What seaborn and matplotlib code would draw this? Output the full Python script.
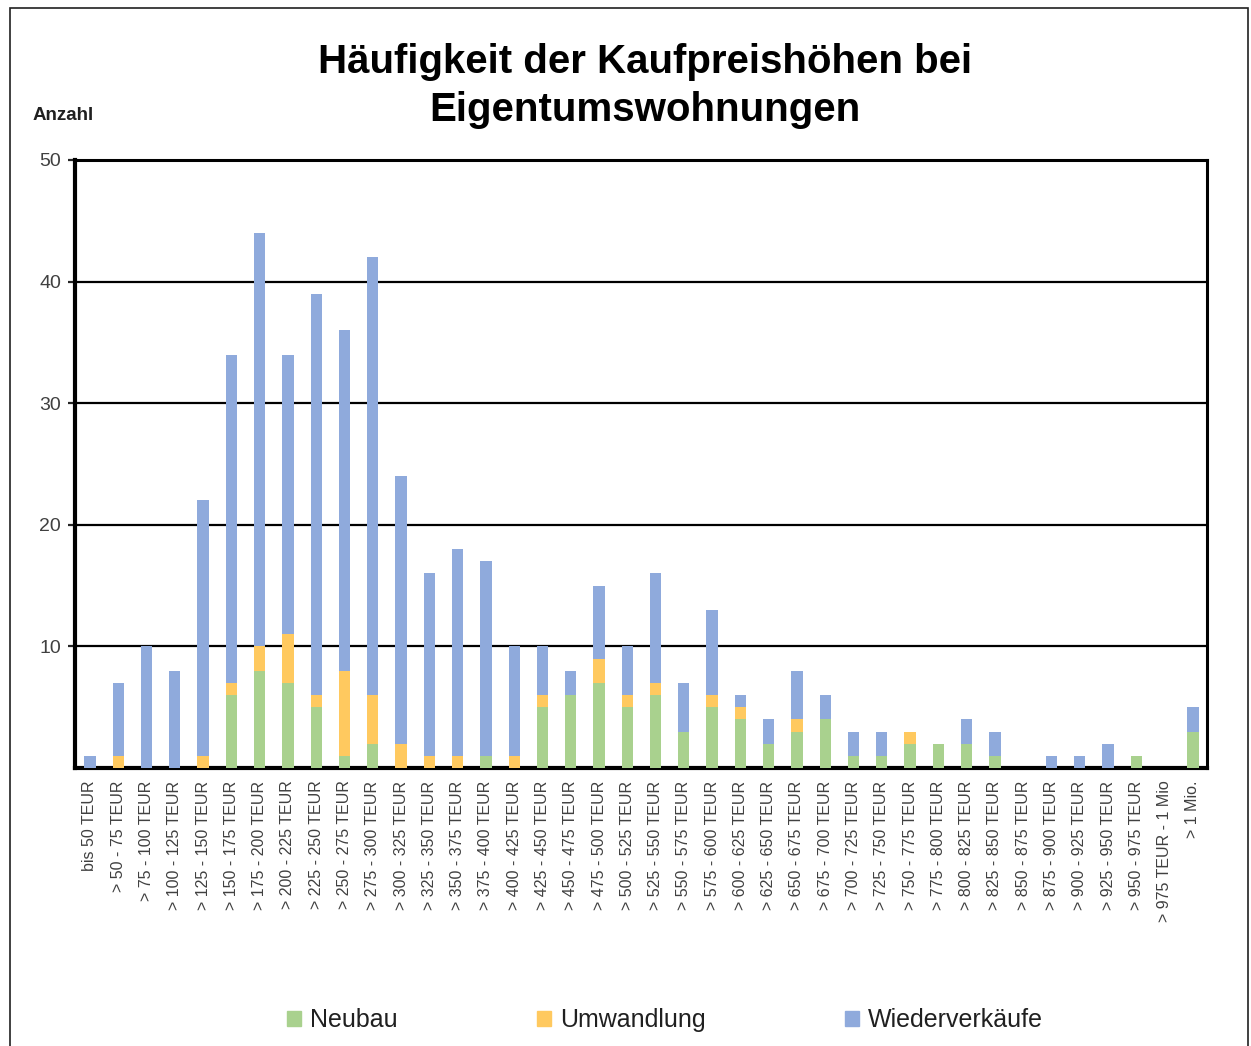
import matplotlib
matplotlib.use("Agg")
import matplotlib.pyplot as plt
import matplotlib.patches as mpatches
import numpy as np
import pandas as pd
import seaborn as sns

# Daten
klassen = ["bis 50 TEUR"] + [f"> {a} - {a + 25} TEUR" for a in range(50, 975, 25)] + \
          ["> 975 TEUR - 1 Mio", "> 1 Mio."]

neubau = [0, 0, 0, 0, 0, 6, 8, 7, 5, 1, 2, 0, 0, 0, 1, 0, 5, 6, 7, 5,
          6, 3, 5, 4, 2, 3, 4, 1, 1, 2, 2, 2, 1, 0, 0, 0, 0, 1, 0, 3]
umwandlung = [0, 1, 0, 0, 1, 1, 2, 4, 1, 7, 4, 2, 1, 1, 0, 1, 1, 0, 2, 1,
              1, 0, 1, 1, 0, 1, 0, 0, 0, 1, 0, 0, 0, 0, 0, 0, 0, 0, 0, 0]
wiederverkaeufe = [1, 6, 10, 8, 21, 27, 34, 23, 33, 28, 36, 22, 15, 17, 16, 9, 4, 2, 6, 4,
                   9, 4, 7, 1, 2, 4, 2, 2, 2, 0, 0, 2, 2, 0, 1, 1, 2, 0, 0, 2]

farbe_neubau = "#A9D18E"
farbe_umwandlung = "#FFC95F"
farbe_wieder = "#8FAADC"

df = pd.DataFrame({"Klasse": klassen, "Neubau": neubau,
                   "Umwandlung": umwandlung, "Wiederverkaeufe": wiederverkaeufe})
df["NU"] = df["Neubau"] + df["Umwandlung"]
df["Gesamt"] = df["NU"] + df["Wiederverkaeufe"]

sns.set_style("white")
plt.rcParams["font.family"] = ["Liberation Sans", "DejaVu Sans"]

fig = plt.figure(figsize=(12.51, 10.46), dpi=100)
ax = fig.add_axes([75 / 1251, 1 - 768 / 1046, (1207 - 75) / 1251, (768 - 160) / 1046])

# gestapelt: Gesamt, dann Neubau+Umwandlung, dann Neubau darueber zeichnen
sns.barplot(data=df, x="Klasse", y="Gesamt", color=farbe_wieder, width=0.4,
            saturation=1, ax=ax, zorder=3)
sns.barplot(data=df, x="Klasse", y="NU", color=farbe_umwandlung, width=0.4,
            saturation=1, ax=ax, zorder=3)
sns.barplot(data=df, x="Klasse", y="Neubau", color=farbe_neubau, width=0.4,
            saturation=1, ax=ax, zorder=3)
for p in ax.patches:
    p.set_linewidth(0)

ax.set_xlim(-0.53, 39.5)
ax.set_ylim(0, 50)
ax.set_yticks([10, 20, 30, 40, 50])
ax.yaxis.grid(True, color="black", linewidth=1.6, zorder=1)
ax.set_axisbelow(True)
for s in ax.spines.values():
    s.set_visible(True)
    s.set_color("black")
    s.set_linewidth(2.2)
ax.spines["bottom"].set_linewidth(3)
ax.spines["left"].set_linewidth(3)

ax.tick_params(axis="y", left=True, length=5, width=1.6, labelsize=14,
               labelcolor="#404040", pad=5)
ax.tick_params(axis="x", bottom=False, length=0, labelsize=11.5, labelcolor="#404040", pad=9)
ax.set_xticks(range(len(klassen)))
ax.set_xticklabels(klassen, rotation=90, va="top", ha="center")
ax.set_xlabel("")
ax.set_ylabel("")

fig.text(645 / 1251, 1 - 86 / 1046, "Häufigkeit der Kaufpreishöhen bei\nEigentumswohnungen",
         ha="center", va="center", fontsize=29, fontweight="bold", linespacing=1.32,
         color="black")
fig.text(33 / 1251, 1 - 115 / 1046, "Anzahl", ha="left", va="center",
         fontsize=13.5, fontweight="bold", color="#202020")

handles = [mpatches.Patch(color=farbe_neubau, label="Neubau"),
           mpatches.Patch(color=farbe_umwandlung, label="Umwandlung"),
           mpatches.Patch(color=farbe_wieder, label="Wiederverkäufe")]
fig.legend(handles=handles, loc="center", bbox_to_anchor=(665 / 1251, 1 - 1020 / 1046),
           ncol=3, frameon=False, fontsize=18, handlelength=0.55, handleheight=0.55,
           handletextpad=0.35, columnspacing=5.6, labelcolor="#202020")

# Rahmen um die Grafik
fig.patches.append(mpatches.Rectangle((10 / 1251, -0.01), (1248 - 10) / 1251, 1 - 8 / 1046 + 0.01,
                                      transform=fig.transFigure, fill=False,
                                      edgecolor="#202020", linewidth=1.2))

fig.savefig("out.png", dpi=100)
